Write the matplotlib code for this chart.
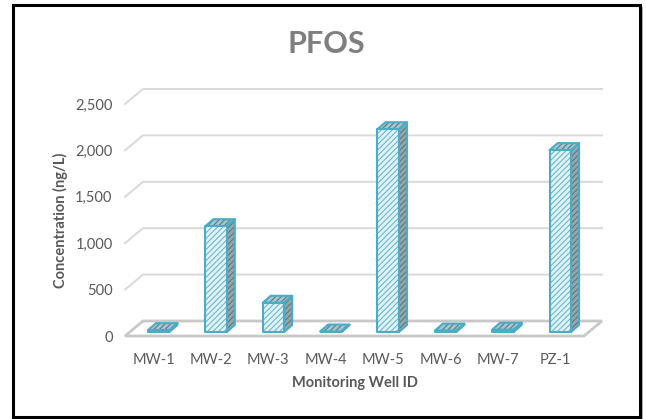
import matplotlib
matplotlib.use("Agg")
import matplotlib.pyplot as plt
from matplotlib.patches import Polygon, Rectangle

wells = ["MW-1", "MW-2", "MW-3", "MW-4", "MW-5", "MW-6", "MW-7", "PZ-1"]
pfos = [20, 1140, 315, 5, 2185, 15, 25, 1960]
yticks = [0, 500, 1000, 1500, 2000, 2500]
title = "PFOS"
xlabel = "Monitoring Well ID"
ylabel = "Concentration (ng/L)"

W, H = 646, 419
fig = plt.figure(figsize=(W / 100, H / 100), dpi=100)
plt.rcParams['hatch.linewidth'] = 0.8

L, R, B, T = 125, 584, 336, 104
ax = fig.add_axes([L / W, 1 - B / H, (R - L) / W, (B - T) / H])
ax.set_xlim(-0.5, len(wells) - 0.5)
ax.set_ylim(0, 2500)
ax.patch.set_visible(False)
for s in ax.spines.values():
    s.set_visible(False)

sx = (R - L) / len(wells)      # px per category
sy = (B - T) / 2500.0          # px per unit

def off(px, py):
    return px / sx, py / sy

gridc = "#d9d9d9"
dxF, dyF = off(18, 15)
x0, x1 = -0.5, len(wells) - 0.5
for v in yticks[1:]:
    ax.plot([x0, x0 + dxF, x1 + dxF], [v, v + dyF, v + dyF], color=gridc,
            lw=1.4, clip_on=False, zorder=1)
# floor
floor = Polygon([(x0, 0), (x1, 0), (x1 + dxF, dyF), (x0 + dxF, dyF)], closed=True,
                facecolor="white", edgecolor="#c8c8c8", lw=2.0, clip_on=False, zorder=2)
ax.add_patch(floor)

fdx, fdy = off(5, 4)
bdx, bdy = off(8, 7)
bw = 21.5 / sx
edge = "#4bacc6"

def face(verts, fc, hc, z):
    ax.add_patch(Polygon(verts, closed=True, facecolor=fc, edgecolor=hc, hatch="//////",
                         lw=0, clip_on=False, zorder=z))
    ax.add_patch(Polygon(verts, closed=True, facecolor="none", edgecolor=edge,
                         lw=1.5, clip_on=False, zorder=z + 0.1, joinstyle="round"))

for i, v in enumerate(pfos):
    xl = i + fdx - bw / 2
    xr = i + fdx + bw / 2
    yb = fdy
    yt = fdy + v
    # side
    face([(xr, yb), (xr + bdx, yb + bdy), (xr + bdx, yt + bdy), (xr, yt)],
         "#95a6ac", "#5e7880", 3 + i * 0.01)
    # top
    face([(xl, yt), (xr, yt), (xr + bdx, yt + bdy), (xl + bdx, yt + bdy)],
         "#a9c4cc", "#4f7f8c", 3 + i * 0.01)
    # front
    face([(xl, yb), (xr, yb), (xr, yt), (xl, yt)],
         "#e2f2f7", "#66b9d0", 3.5 + i * 0.01)

tickc = "#595959"
font = "Lato"
ax.set_yticks(yticks)
ax.set_yticklabels([f"{v:,}" for v in yticks], fontsize=10.5, color=tickc, family=font)
ax.set_xticks(range(len(wells)))
ax.set_xticklabels(wells, fontsize=10.5, color=tickc, family=font)
ax.tick_params(axis="y", length=0, pad=9)
ax.tick_params(axis="x", length=0, pad=12)

fig.text(326 / W, 1 - 52.7 / H, title, fontsize=22, fontweight="bold", color="#7f7f7f",
         ha="center", va="baseline", family=font)
fig.text(355 / W, 1 - 383 / H, xlabel, fontsize=10.5, fontweight="bold", color=tickc,
         ha="center", va="center", family=font)
fig.text(60 / W, 1 - 220 / H, ylabel, fontsize=10.5, fontweight="bold", color=tickc,
         ha="center", va="center", rotation=90, family=font)

# frame with shadow
fig.patches.append(Rectangle((16 / W, 1 - 419 / H), (640 - 13) / W, (417 - 5) / H,
                             transform=fig.transFigure, facecolor="#b0b0b0",
                             edgecolor="none", zorder=-2))
fig.patches.append(Rectangle((13 / W, 1 - 417 / H), (640 - 13) / W, (417 - 5) / H,
                             transform=fig.transFigure, facecolor="white",
                             edgecolor="black", lw=2.2, zorder=-1))

fig.savefig("out.png", dpi=100)
